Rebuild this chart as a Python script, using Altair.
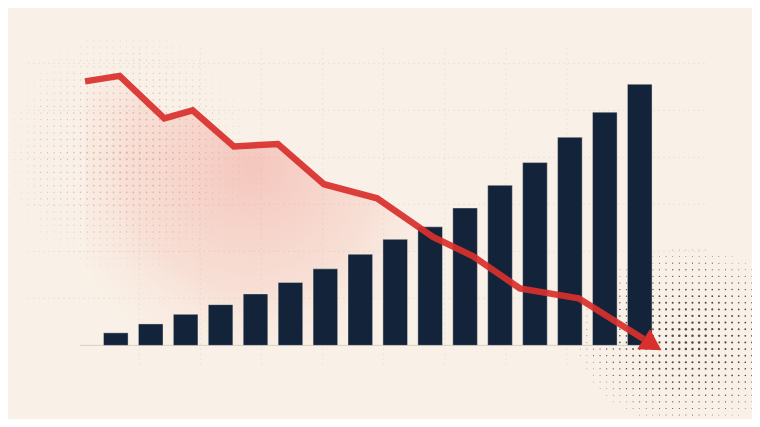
import altair as alt
import pandas as pd

# ---- data ----
periods = list(range(1, 17))
bar_values = [4.8, 8.2, 11.9, 15.6, 19.7, 24.1, 29.3, 34.9,
              40.6, 45.4, 52.6, 61.3, 70.0, 79.7, 89.3, 100.0]

line_x = [0.12, 1.11, 2.39, 3.20, 4.38, 5.64, 6.96, 8.48,
          10.08, 11.22, 12.57, 14.25, 16.11]
line_v = [101.1, 103.2, 86.9, 90.0, 76.2, 77.1, 61.7, 56.3,
          41.5, 34.2, 21.8, 18.0, 2.4]

grid_x = [1.67, 3.42, 5.17, 6.92, 8.67, 10.42, 12.17, 13.92]
grid_y = [18, 36, 54, 72, 90, 108]

baseline_from, baseline_to = -0.03, 16.6

# halftone texture fields: (x start, y start, columns, rows, centre x, centre y,
#                           radius x, radius y, max dot size, colour, opacity)
halftone_bottom_right = [13.73, -26.7, 30, 29, 17.4, 3.0, 3.2, 34.0, 6.5, "#2f2b28", 0.85]
halftone_top_left = [-1.9, 30.8, 35, 35, 1.3, 74.0, 3.4, 46.0, 4.2, "#d08f87", 0.6]
dot_step_x, dot_step_y = 0.189, 2.53

BG = "#f9f1e7"
NAVY = "#13233a"
RED = "#d8302d"

bars = pd.DataFrame({"period": periods, "value": bar_values})
line = pd.DataFrame({"x": line_x, "v": line_v})
head = pd.DataFrame({"x": [line_x[-1]], "v": [line_v[-1]]})
base = pd.DataFrame({"x": [baseline_from], "x2": [baseline_to], "v": [0]})
gx = pd.DataFrame({"x": grid_x})
gy = pd.DataFrame({"v": grid_y})

xs = alt.Scale(domain=[-2.086, 19.214], nice=False, zero=False)
ys = alt.Scale(domain=[-28.2, 129.2], nice=False, zero=False)
noax = None


def halftone(p):
    x0, y0, ncol, nrow, cx, cy, rx, ry, smax, col, op = p
    return (
        alt.Chart(alt.sequence(0, ncol, as_="i"))
        .transform_calculate(j=f"sequence(0, {nrow})")
        .transform_flatten(["j"])
        .transform_calculate(
            hx=f"{x0} + datum.i * {dot_step_x}",
            hy=f"{y0} + datum.j * {dot_step_y}",
        )
        .transform_calculate(
            d=f"sqrt(pow((datum.hx - {cx}) / {rx}, 2) + pow((datum.hy - {cy}) / {ry}, 2))"
        )
        .transform_filter("datum.d < 1")
        .transform_calculate(s=f"{smax} * pow(1 - datum.d, 1.2) + 0.5")
        .mark_circle(color=col, opacity=op)
        .encode(
            x=alt.X("hx:Q", scale=xs, axis=noax),
            y=alt.Y("hy:Q", scale=ys, axis=noax),
            size=alt.Size("s:Q", scale=None, legend=None),
        )
    )


vgrid = alt.Chart(gx).mark_rule(color="#ede3d6", strokeWidth=1, strokeDash=[2, 3]).encode(
    x=alt.X("x:Q", scale=xs, axis=noax),
    y=alt.value(40), y2=alt.value(360),
)
hgrid = alt.Chart(gy).mark_rule(color="#ede3d6", strokeWidth=1, strokeDash=[2, 3]).encode(
    y=alt.Y("v:Q", scale=ys, axis=noax),
    x=alt.value(20), x2=alt.value(700),
)

glow = alt.Chart(line).mark_area(
    fill={
        "gradient": "radial",
        "x1": 0.3, "y1": 0.42, "r1": 0.0,
        "x2": 0.3, "y2": 0.42, "r2": 0.37,
        "stops": [
            {"offset": 0, "color": "rgba(236,115,108,0.34)"},
            {"offset": 0.6, "color": "rgba(240,140,130,0.18)"},
            {"offset": 1, "color": "rgba(248,200,190,0)"},
        ],
    },
    interpolate="linear",
).encode(
    x=alt.X("x:Q", scale=xs, axis=noax),
    y=alt.Y("v:Q", scale=ys, axis=noax),
    y2=alt.datum(0),
)

baseline = alt.Chart(base).mark_rule(color="#d9cfc2", strokeWidth=1).encode(
    x=alt.X("x:Q", scale=xs, axis=noax),
    x2="x2:Q",
    y=alt.Y("v:Q", scale=ys, axis=noax),
)

barmark = alt.Chart(bars).transform_calculate(
    x0="datum.period - 0.352", x1="datum.period + 0.352"
).mark_bar(color=NAVY, stroke="#f4ece2", strokeWidth=0.6, strokeOpacity=0.7).encode(
    x=alt.X("x0:Q", scale=xs, axis=noax),
    x2="x1:Q",
    y=alt.Y("value:Q", scale=ys, axis=noax),
    y2=alt.datum(0),
)

linemark = alt.Chart(line).mark_line(
    color=RED, strokeWidth=6.5, strokeJoin="miter", strokeCap="butt", opacity=0.93
).encode(
    x=alt.X("x:Q", scale=xs, axis=noax),
    y=alt.Y("v:Q", scale=ys, axis=noax),
)

arrow = alt.Chart(head).mark_point(
    shape="M0,-1L1.75,0L0,1Z", filled=True, fill=RED, strokeWidth=0,
    size=576, angle=32, opacity=1,
).encode(
    x=alt.X("x:Q", scale=xs, axis=noax),
    y=alt.Y("v:Q", scale=ys, axis=noax),
)

chart = alt.layer(
    vgrid, hgrid, halftone(halftone_top_left), halftone(halftone_bottom_right),
    glow, baseline, barmark, linemark, arrow,
).properties(
    width=744, height=411, background=BG, padding=0,
    autosize=alt.AutoSizeParams(type="none"),
).configure_view(stroke=None)

chart.save("out.html", embed_options={"renderer": "svg", "actions": False})
